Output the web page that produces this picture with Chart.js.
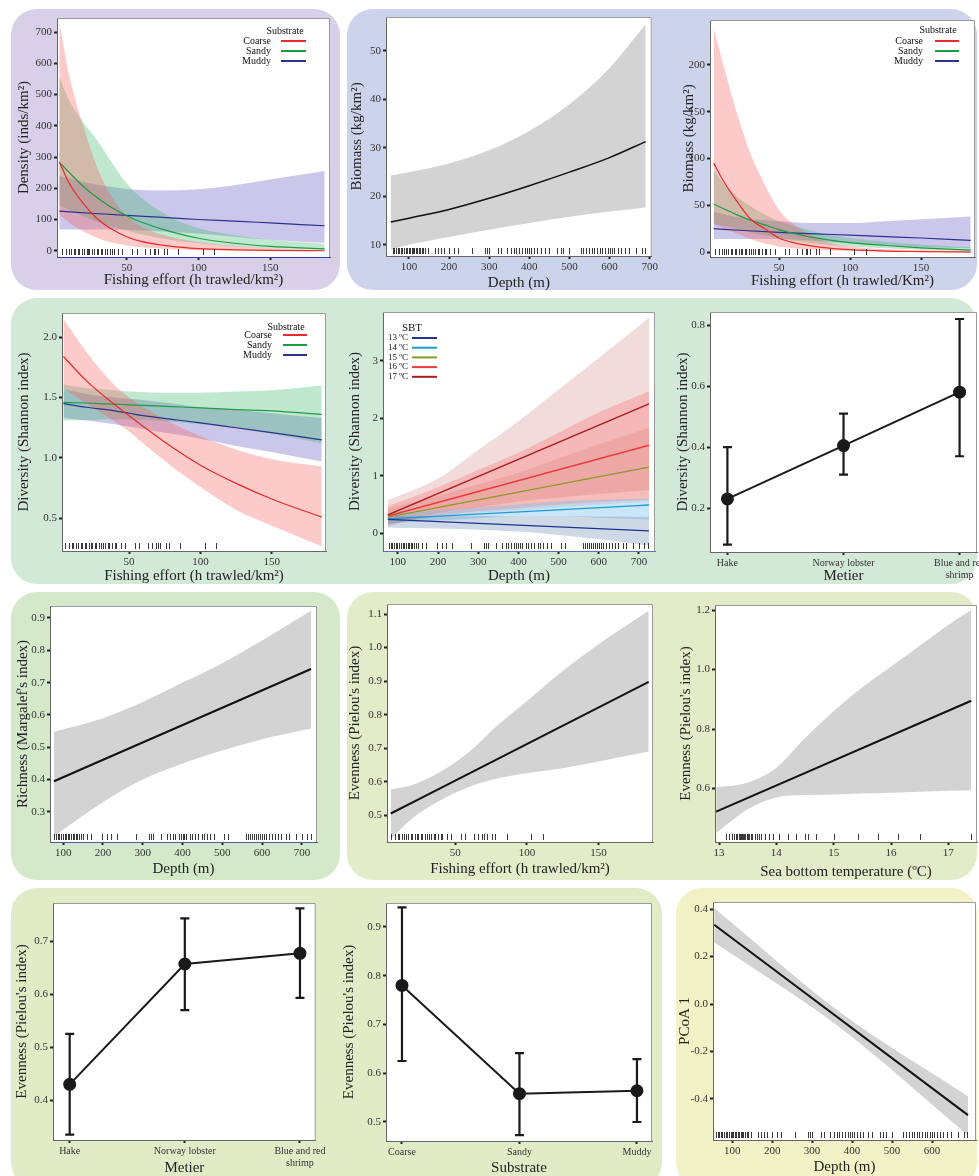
<!DOCTYPE html>
<html>
<head>
<meta charset="utf-8">
<script src="https://cdn.jsdelivr.net/npm/chart.js@4.4.1/dist/chart.umd.min.js"></script>
<style>
  body { margin: 0; width: 979px; height: 1176px; position: relative; overflow: hidden; background: #fff; }
  .bg { position: absolute; border-radius: 26px; }
  canvas { position: absolute; }
</style>
</head>
<body>
<div class="bg" style="left:11px;top:9px;width:329px;height:281px;background:#d8cfe8"></div>
<div class="bg" style="left:347px;top:9px;width:630px;height:281px;background:#ced3ec"></div>
<div class="bg" style="left:11px;top:298px;width:966px;height:286px;background:#d2e9d8"></div>
<div class="bg" style="left:11px;top:592px;width:329px;height:288px;background:#d4e9c9"></div>
<div class="bg" style="left:347px;top:592px;width:630px;height:288px;background:#e2ecc8"></div>
<div class="bg" style="left:11px;top:888px;width:651px;height:300px;background:#e0ecc6"></div>
<div class="bg" style="left:676px;top:888px;width:301px;height:300px;background:#f3f2c6"></div>
<script>
// ---------- data ----------
// density / biomass vs fishing effort, by substrate
const effortX = [3, 10, 20, 30, 40, 50, 60, 80, 100, 125, 150, 188];
const densCoarse = [285, 215, 150, 100, 68, 45, 30, 15, 7, 3, 1, 0];
const densCoarseLo = [115, 90, 62, 40, 26, 17, 11, 5, 2, 1, 0, 0];
const densCoarseHi = [730, 560, 395, 260, 170, 112, 78, 45, 28, 15, 8, 3];
const densSandy = [283, 250, 205, 168, 137, 112, 92, 62, 40, 24, 14, 6];
const densSandyLo = [145, 130, 110, 92, 77, 64, 53, 35, 24, 14, 8, 3];
const densSandyHi = [555, 480, 410, 350, 280, 215, 170, 110, 72, 50, 35, 22];
const densMuddyX = [3, 25, 50, 75, 100, 125, 150, 188];
const densMuddy = [127, 120, 113, 107, 100, 95, 89, 80];
const densMuddyLo = [68, 68, 67, 62, 55, 45, 35, 25];
const densMuddyHi = [240, 215, 198, 193, 197, 210, 228, 255];

const depthBX = [55, 100, 200, 300, 400, 500, 600, 690];
const biomassFit = [14.7, 15.5, 17.3, 19.6, 22.2, 25.0, 28.0, 31.3];
const biomassLo = [9.0, 10.0, 11.6, 13.1, 14.5, 15.8, 16.9, 17.7];
const biomassHi = [24.3, 25.0, 26.8, 29.5, 33.5, 39.0, 46.5, 55.5];

const effortX3 = [4, 10, 20, 30, 40, 50, 60, 80, 100, 125, 150, 185];
const bioCoarse = [95, 78, 55, 35, 25, 15, 10, 5, 2.5, 1, 0.5, 0];
const bioCoarseLo = [30, 26, 20, 14, 9, 6, 4, 2, 1, 0.5, 0, 0];
const bioCoarseHi = [240, 205, 150, 105, 72, 45, 30, 13, 6, 3, 2, 1];
const bioSandy = [51, 47, 40, 34, 29, 24, 20, 14, 10, 7, 4.5, 2];
const bioSandyLo = [30, 28, 25, 21, 18, 15, 12, 8, 6, 4, 2.5, 1];
const bioSandyHi = [88, 75, 60, 49, 40, 33, 28, 20, 15, 11, 8, 5];
const bioMuddyX = [4, 25, 50, 75, 100, 125, 150, 185];
const bioMuddy = [25, 23, 21, 19.5, 18, 16.5, 15, 12.5];
const bioMuddyLo = [14, 14, 14, 12, 9, 7, 5, 4];
const bioMuddyHi = [43, 36, 33, 31, 31, 33, 35, 38];

// diversity vs fishing effort
const divEffX = [4, 20, 40, 50, 60, 80, 100, 125, 150, 185];
const divCoarse = [1.84, 1.64, 1.44, 1.35, 1.26, 1.09, 0.94, 0.79, 0.66, 0.51];
const divCoarseLo = [1.58, 1.45, 1.30, 1.22, 1.12, 0.93, 0.76, 0.57, 0.44, 0.27];
const divCoarseHi = [2.15, 1.88, 1.60, 1.50, 1.42, 1.29, 1.18, 1.07, 0.99, 0.93];
const divSandy = [1.46, 1.455, 1.445, 1.44, 1.435, 1.425, 1.415, 1.40, 1.39, 1.36];
const divSandyLo = [1.31, 1.315, 1.32, 1.32, 1.315, 1.30, 1.28, 1.25, 1.20, 1.12];
const divSandyHi = [1.61, 1.58, 1.56, 1.55, 1.545, 1.54, 1.54, 1.55, 1.56, 1.60];
const divMuddy = [1.45, 1.42, 1.39, 1.37, 1.35, 1.32, 1.29, 1.25, 1.21, 1.15];
const divMuddyLo = [1.33, 1.31, 1.28, 1.26, 1.24, 1.20, 1.16, 1.10, 1.05, 0.97];
const divMuddyHi = [1.57, 1.53, 1.50, 1.49, 1.48, 1.45, 1.42, 1.40, 1.37, 1.33];

// diversity vs depth, by sea bottom temperature
const sbtLineX = [75, 725];
const sbt13 = [0.24, 0.04];
const sbt14 = [0.25, 0.49];
const sbt15 = [0.28, 1.15];
const sbt16 = [0.30, 1.53];
const sbt17 = [0.32, 2.25];
const sbtX = [75, 200, 300, 400, 500, 600, 725];
const sbt13Lo = [0.10, 0.08, 0.06, 0.03, -0.03, -0.10, -0.22];
const sbt13Hi = [0.30, 0.30, 0.30, 0.30, 0.30, 0.29, 0.28];
const sbt14Lo = [0.17, 0.22, 0.26, 0.30, 0.30, 0.27, 0.24];
const sbt14Hi = [0.33, 0.40, 0.45, 0.50, 0.55, 0.58, 0.60];
const sbt15Lo = [0.17, 0.28, 0.35, 0.40, 0.45, 0.50, 0.55];
const sbt15Hi = [0.43, 0.65, 0.85, 1.05, 1.30, 1.55, 1.83];
const sbt16Lo = [0.15, 0.30, 0.38, 0.44, 0.50, 0.54, 0.58];
const sbt16Hi = [0.47, 0.80, 1.10, 1.40, 1.75, 2.10, 2.47];
const sbt17Lo = [0.12, 0.35, 0.45, 0.55, 0.62, 0.68, 0.75];
const sbt17Hi = [0.57, 0.95, 1.45, 1.95, 2.50, 3.05, 3.75];
const sbtNames = ['13 ºC', '14 ºC', '15 ºC', '16 ºC', '17 ºC'];

// metier / substrate means with intervals
const metierNames = ['Hake', 'Norway lobster', ['Blue and red', 'shrimp']];
const divMetier = [0.23, 0.405, 0.58];
const divMetierLo = [0.08, 0.31, 0.37];
const divMetierHi = [0.40, 0.51, 0.82];
const evMetier = [0.43, 0.657, 0.677];
const evMetierLo = [0.335, 0.57, 0.593];
const evMetierHi = [0.525, 0.743, 0.762];
const substrateNames = ['Coarse', 'Sandy', 'Muddy'];
const evSub = [0.78, 0.558, 0.564];
const evSubLo = [0.625, 0.473, 0.50];
const evSubHi = [0.94, 0.641, 0.629];

// richness vs depth
const richLineX = [77, 723];
const richFit = [0.395, 0.742];
const richX = [77, 200, 300, 400, 500, 600, 723];
const richLo = [0.225, 0.33, 0.40, 0.45, 0.49, 0.525, 0.558];
const richHi = [0.548, 0.59, 0.64, 0.70, 0.76, 0.83, 0.922];

// evenness vs fishing effort / temperature
const evEffLineX = [5, 185];
const evEffFit = [0.505, 0.898];
const evEffX = [5, 20, 40, 60, 80, 100, 125, 150, 185];
const evEffLo = [0.43, 0.49, 0.545, 0.585, 0.61, 0.625, 0.64, 0.66, 0.69];
const evEffHi = [0.577, 0.59, 0.63, 0.69, 0.77, 0.84, 0.93, 1.01, 1.11];
const evSbtLineX = [12.95, 17.4];
const evSbtFit = [0.522, 0.895];
const evSbtX = [12.95, 13.5, 14, 14.5, 15, 15.5, 16, 16.5, 17, 17.4];
const evSbtLo = [0.45, 0.53, 0.57, 0.578, 0.58, 0.583, 0.586, 0.589, 0.592, 0.594];
const evSbtHi = [0.603, 0.62, 0.67, 0.77, 0.86, 0.94, 1.01, 1.08, 1.15, 1.2];

// PCoA 1 vs depth
const pcoaLineX = [55, 690];
const pcoaFit = [0.334, -0.468];
const pcoaX = [55, 370, 690];
const pcoaLo = [0.26, -0.10, -0.554];
const pcoaHi = [0.405, -0.035, -0.389];

// rug marks (observations)
const effortRug = [5, 8, 10, 11, 13, 14, 16, 17, 19, 20, 22, 23, 24, 26, 27, 29, 30, 32, 33, 35, 36, 38, 40, 41, 44, 47, 54, 57, 63, 66, 69, 70, 72, 76, 78, 86, 103, 111];
const depthRugA = [60, 64, 68, 72, 75, 80, 84, 88, 92, 96, 100, 103, 107, 110, 114, 118, 121, 125, 128, 132, 136, 140, 148, 165, 172, 180, 188, 200, 212, 222, 258, 290, 295, 300, 322, 330, 345, 355, 362, 368, 375, 382, 390, 395, 400, 405, 412, 420, 428, 440, 450, 470, 478, 485, 500, 528, 535, 542, 550, 556, 562, 568, 575, 582, 588, 595, 600, 606, 612, 620, 628, 638, 648, 665, 680, 688];
const depthRugB = [78, 82, 86, 90, 95, 99, 104, 108, 112, 116, 120, 124, 128, 132, 136, 140, 145, 150, 160, 170, 198, 210, 220, 235, 282, 315, 320, 325, 345, 360, 368, 375, 382, 390, 395, 400, 405, 410, 418, 425, 432, 440, 448, 455, 462, 470, 480, 505, 515, 560, 565, 570, 575, 580, 585, 590, 595, 600, 605, 610, 618, 625, 632, 640, 648, 660, 668, 685, 700, 712, 722];
const sbtRug = [13.12, 13.18, 13.22, 13.26, 13.3, 13.32, 13.34, 13.36, 13.38, 13.4, 13.42, 13.44, 13.46, 13.48, 13.5, 13.52, 13.55, 13.58, 13.62, 13.66, 13.7, 13.74, 13.8, 13.88, 13.95, 14.05, 14.2, 14.35, 14.5, 14.55, 14.7, 15.0, 15.42, 15.77, 16.12, 16.5, 17.4];

// ---------- style ----------
const SERIF = '"Liberation Serif", "Times New Roman", serif';
Chart.defaults.font.family = SERIF;
const RED = '#e82a2a', GREEN = '#1e9c45', BLUE = '#2d318f';
const RED_BAND = 'rgba(250, 90, 90, 0.32)';
const GREEN_BAND = 'rgba(60, 185, 105, 0.33)';
const BLUE_BAND = 'rgba(95, 85, 195, 0.33)';
const GREY_BAND = '#d3d3d3';
const SBT_LINES = ['#23318f', '#1c9bd1', '#8a9a2a', '#ee3b3b', '#a61c1c'];
const SBT_BANDS = ['rgba(90, 130, 170, 0.3)', 'rgba(120, 190, 240, 0.4)', 'rgba(200, 90, 70, 0.16)', 'rgba(255, 90, 90, 0.28)', 'rgba(190, 90, 90, 0.22)'];

// canvas box and plot box, page pixels [left, top, right, bottom]
const G = {
  p1: { canvas: [15, 5, 336, 289], plot: [57, 18, 330, 257] },
  p2: { canvas: [348, 5, 660, 292], plot: [386, 17, 652, 256] },
  p3: { canvas: [680, 5, 979, 290], plot: [710, 20, 975, 257] },
  p4: { canvas: [15, 300, 332, 585], plot: [62, 313, 326, 551] },
  p5: { canvas: [346, 300, 662, 585], plot: [383, 312, 655, 551] },
  p6: { canvas: [674, 300, 990, 585], plot: [710, 312, 977, 552] },
  p7: { canvas: [14, 595, 325, 878], plot: [50, 606, 317, 842] },
  p8: { canvas: [346, 595, 660, 878], plot: [387, 604, 653, 842] },
  p9: { canvas: [677, 595, 979, 881], plot: [715, 605, 977, 842] },
  p10: { canvas: [13, 890, 328, 1177], plot: [53, 903, 320, 1140] },
  p11: { canvas: [340, 890, 660, 1177], plot: [386, 903, 652, 1141] },
  p12: { canvas: [676, 890, 979, 1176], plot: [713, 902, 976, 1140] }
};

// ---------- plugins ----------
const frame = {
  id: 'frame',
  beforeDraw(c) {
    const { ctx, chartArea: a } = c;
    ctx.save();
    ctx.fillStyle = '#fff';
    ctx.fillRect(a.left, a.top, a.width, a.height);
    ctx.restore();
  },
  afterDraw(c) {
    const { ctx, chartArea: a } = c;
    ctx.save();
    ctx.strokeStyle = '#9a9a9a';
    ctx.lineWidth = 1;
    ctx.beginPath();
    ctx.moveTo(a.left, a.top + 0.5);
    ctx.lineTo(a.right - 0.5, a.top + 0.5);
    ctx.lineTo(a.right - 0.5, a.bottom);
    ctx.stroke();
    ctx.restore();
  }
};

const rug = {
  id: 'rug',
  afterDatasetsDraw(c, args, o) {
    if (!o.values) return;
    const { ctx, chartArea: a, scales: { x } } = c;
    ctx.save();
    ctx.strokeStyle = '#222';
    ctx.lineWidth = 0.9;
    ctx.beginPath();
    o.values.forEach(v => {
      const px = Math.round(x.getPixelForValue(v)) + 0.5;
      ctx.moveTo(px, a.bottom - 2);
      ctx.lineTo(px, a.bottom - 8);
    });
    ctx.stroke();
    ctx.restore();
  }
};

const errbars = {
  id: 'errbars',
  beforeDatasetsDraw(c, args, o) {
    if (!o.lo) return;
    const { ctx, scales: { x, y } } = c;
    ctx.save();
    ctx.strokeStyle = '#1a1a1a';
    ctx.lineWidth = 2.2;
    o.lo.forEach((lo, i) => {
      const px = x.getPixelForValue(i), y0 = y.getPixelForValue(lo), y1 = y.getPixelForValue(o.hi[i]);
      ctx.beginPath();
      ctx.moveTo(px, y0); ctx.lineTo(px, y1);
      ctx.moveTo(px - 4.5, y0); ctx.lineTo(px + 4.5, y0);
      ctx.moveTo(px - 4.5, y1); ctx.lineTo(px + 4.5, y1);
      ctx.stroke();
    });
    ctx.restore();
  }
};

const key = {
  id: 'key',
  afterDraw(c, args, o) {
    if (!o.title) return;
    const { ctx, chartArea: a } = c;
    const base = o.side === 'left' ? a.left : a.right;
    const items = c.data.datasets.filter(d => d.label);
    ctx.save();
    ctx.fillStyle = '#111';
    ctx.textBaseline = 'middle';
    ctx.font = `${o.titleSize || 10}px ${SERIF}`;
    ctx.textAlign = 'center';
    ctx.fillText(o.title, base + o.titleX, a.top + o.titleY);
    ctx.font = `${o.size || 10}px ${SERIF}`;
    ctx.textAlign = o.side === 'left' ? 'left' : 'right';
    items.forEach((d, i) => {
      const yy = a.top + o.y0 + i * o.dy;
      ctx.fillText(d.label, base + o.textX, yy);
      ctx.strokeStyle = d.borderColor;
      ctx.lineWidth = 2;
      ctx.beginPath();
      ctx.moveTo(base + o.line[0], yy);
      ctx.lineTo(base + o.line[1], yy);
      ctx.stroke();
    });
    ctx.restore();
  }
};

// ---------- helpers ----------
function pts(xs, ys) { return xs.map((x, i) => ({ x, y: ys[i] })); }

function fit(xs, ys, color, label, w) {
  return { label, data: pts(xs, ys), borderColor: color, borderWidth: w || 1.2, pointRadius: 0, fill: false, cubicInterpolationMode: 'monotone' };
}

function band(xs, lo, hi, color) {
  return [
    { data: pts(xs, lo), borderWidth: 0, pointRadius: 0, fill: false, cubicInterpolationMode: 'monotone' },
    { data: pts(xs, hi), borderWidth: 0, pointRadius: 0, fill: '-1', backgroundColor: color, cubicInterpolationMode: 'monotone' }
  ];
}

function means(vals) {
  return { data: pts([0, 1, 2], vals), borderColor: '#1a1a1a', borderWidth: 2, pointRadius: 5.5, pointBackgroundColor: '#1a1a1a', pointBorderColor: '#1a1a1a', fill: false, tension: 0 };
}

function axis(a, size, horizontal) {
  return {
    type: 'linear', min: a.min, max: a.max,
    afterFit(s) { if (horizontal) s.height = size; else s.width = size; },
    afterBuildTicks(s) { s.ticks = a.ticks.map(v => ({ value: v })); },
    ticks: {
      autoSkip: false, maxRotation: 0, padding: 2, color: '#333',
      font: { size: a.tickSize || 11 },
      callback: a.names ? (v => a.names[v]) : (v => v.toFixed(a.dec || 0))
    },
    grid: { display: true, drawOnChartArea: false, drawTicks: true, tickLength: 3, tickWidth: 2, tickColor: '#222' },
    border: { display: true, color: a.line || '#666', width: 1 },
    title: { display: true, text: a.title, color: '#222', font: { size: 15 }, padding: 0 }
  };
}

function panel(g, datasets, xa, ya, extra) {
  const [cl, ct, cr, cb] = g.canvas, [pl, pt, pr, pb] = g.plot;
  const cv = document.createElement('canvas');
  cv.width = cr - cl;
  cv.height = cb - ct;
  cv.style.left = cl + 'px';
  cv.style.top = ct + 'px';
  document.body.appendChild(cv);
  new Chart(cv, {
    type: 'line',
    data: { datasets },
    plugins: [frame, rug, errbars, key],
    options: {
      responsive: false, animation: false, events: [],
      layout: { padding: { left: 0, top: pt - ct, right: cr - pr, bottom: 0 } },
      plugins: Object.assign({
        legend: { display: false }, tooltip: { enabled: false }, colors: { enabled: false },
        filler: { drawTime: 'beforeDatasetsDraw' }
      }, extra),
      scales: { x: axis(xa, cb - pb, true), y: axis(ya, pl - cl, false) }
    }
  });
}

const effortTitle = 'Fishing effort (h trawled/km²)';
const substrateKey = (tx, ty, txt, ln, y0) => ({ title: 'Substrate', side: 'right', titleX: tx, titleY: ty, textX: txt, line: ln, y0, dy: 10 });

// ---------- panels ----------
panel(G.p1, [
  fit(effortX, densCoarse, RED, 'Coarse'),
  fit(effortX, densSandy, GREEN, 'Sandy'),
  fit(densMuddyX, densMuddy, BLUE, 'Muddy'),
  ...band(effortX, densCoarseLo, densCoarseHi, RED_BAND),
  ...band(effortX, densSandyLo, densSandyHi, GREEN_BAND),
  ...band(densMuddyX, densMuddyLo, densMuddyHi, BLUE_BAND)
], { min: 1.4, max: 191.7, ticks: [50, 100, 150], title: effortTitle, line: '#34409a' },
   { min: -20, max: 745, ticks: [0, 100, 200, 300, 400, 500, 600, 700], title: 'Density (inds/km²)' },
   { rug: { values: effortRug }, key: substrateKey(-45, 13, -59, [-49, -24], 23) });

panel(G.p2, [
  fit(depthBX, biomassFit, '#111', undefined, 1.5),
  ...band(depthBX, biomassLo, biomassHi, GREY_BAND)
], { min: 43, max: 705, ticks: [100, 200, 300, 400, 500, 600, 700], title: 'Depth (m)' },
   { min: 7.7, max: 57, ticks: [10, 20, 30, 40, 50], title: 'Biomass (kg/km²)' },
   { rug: { values: depthRugA } });

panel(G.p3, [
  fit(effortX3, bioCoarse, RED, 'Coarse'),
  fit(effortX3, bioSandy, GREEN, 'Sandy'),
  fit(bioMuddyX, bioMuddy, BLUE, 'Muddy'),
  ...band(effortX3, bioCoarseLo, bioCoarseHi, RED_BAND),
  ...band(effortX3, bioSandyLo, bioSandyHi, GREEN_BAND),
  ...band(bioMuddyX, bioMuddyLo, bioMuddyHi, BLUE_BAND)
], { min: 1.4, max: 188, ticks: [50, 100, 150], title: 'Fishing effort (h trawled/Km²)' },
   { min: -5.3, max: 248, ticks: [0, 50, 100, 150, 200], title: 'Biomass (kg/km²)' },
   { rug: { values: effortRug }, key: substrateKey(-37, 10, -52, [-40, -16], 21) });

panel(G.p4, [
  fit(divEffX, divCoarse, RED, 'Coarse'),
  fit(divEffX, divSandy, GREEN, 'Sandy'),
  fit(divEffX, divMuddy, BLUE, 'Muddy'),
  ...band(divEffX, divCoarseLo, divCoarseHi, RED_BAND),
  ...band(divEffX, divSandyLo, divSandyHi, GREEN_BAND),
  ...band(divEffX, divMuddyLo, divMuddyHi, BLUE_BAND)
], { min: 3, max: 188, ticks: [50, 100, 150], title: effortTitle },
   { min: 0.23, max: 2.2, ticks: [0.5, 1.0, 1.5, 2.0], dec: 1, title: 'Diversity (Shannon index)' },
   { rug: { values: effortRug }, key: substrateKey(-40, 14, -54, [-43, -19], 22) });

const sbtSeries = [sbt13, sbt14, sbt15, sbt16, sbt17];
const sbtBandLo = [sbt13Lo, sbt14Lo, sbt15Lo, sbt16Lo, sbt17Lo];
const sbtBandHi = [sbt13Hi, sbt14Hi, sbt15Hi, sbt16Hi, sbt17Hi];
panel(G.p5, [
  ...sbtSeries.map((s, i) => fit(sbtLineX, s, SBT_LINES[i], sbtNames[i], 1.4)),
  ...sbtSeries.flatMap((s, i) => band(sbtX, sbtBandLo[i], sbtBandHi[i], SBT_BANDS[i]))
], { min: 63, max: 740, ticks: [100, 200, 300, 400, 500, 600, 700], title: 'Depth (m)', line: '#6070b0' },
   { min: -0.31, max: 3.85, ticks: [0, 1, 2, 3], title: 'Diversity (Shannon index)' },
   { rug: { values: depthRugB }, key: { title: 'SBT', side: 'left', titleSize: 11, size: 9, titleX: 29, titleY: 16, textX: 5, line: [29, 54], y0: 26, dy: 9.7 } });

panel(G.p6, [means(divMetier)],
   { min: -0.15, max: 2.15, ticks: [0, 1, 2], names: metierNames, tickSize: 10, title: 'Metier' },
   { min: 0.056, max: 0.843, ticks: [0.2, 0.4, 0.6, 0.8], dec: 1, title: 'Diversity (Shannon index)' },
   { errbars: { lo: divMetierLo, hi: divMetierHi } });

panel(G.p7, [
  fit(richLineX, richFit, '#111', undefined, 2),
  ...band(richX, richLo, richHi, GREY_BAND)
], { min: 67, max: 738, ticks: [100, 200, 300, 400, 500, 600, 700], title: 'Depth (m)', line: '#4a5aa0' },
   { min: 0.207, max: 0.937, ticks: [0.3, 0.4, 0.5, 0.6, 0.7, 0.8, 0.9], dec: 1, title: "Richness (Margalef's index)" },
   { rug: { values: depthRugB } });

panel(G.p8, [
  fit(evEffLineX, evEffFit, '#111', undefined, 2),
  ...band(evEffX, evEffLo, evEffHi, GREY_BAND)
], { min: 2.4, max: 188, ticks: [50, 100, 150], title: effortTitle },
   { min: 0.42, max: 1.13, ticks: [0.5, 0.6, 0.7, 0.8, 0.9, 1.0, 1.1], dec: 1, title: "Evenness (Pielou's index)" },
   { rug: { values: effortRug } });

panel(G.p9, [
  fit(evSbtLineX, evSbtFit, '#111', undefined, 2),
  ...band(evSbtX, evSbtLo, evSbtHi, GREY_BAND)
], { min: 12.93, max: 17.5, ticks: [13, 14, 15, 16, 17], title: 'Sea bottom temperature (ºC)' },
   { min: 0.42, max: 1.217, ticks: [0.6, 0.8, 1.0, 1.2], dec: 1, title: "Evenness (Pielou's index)" },
   { rug: { values: sbtRug } });

panel(G.p10, [means(evMetier)],
   { min: -0.145, max: 2.137, ticks: [0, 1, 2], names: metierNames, tickSize: 10, title: 'Metier' },
   { min: 0.325, max: 0.772, ticks: [0.4, 0.5, 0.6, 0.7], dec: 1, title: "Evenness (Pielou's index)" },
   { errbars: { lo: evMetierLo, hi: evMetierHi } });

panel(G.p11, [means(evSub)],
   { min: -0.136, max: 2.128, ticks: [0, 1, 2], names: substrateNames, tickSize: 10, title: 'Substrate' },
   { min: 0.461, max: 0.949, ticks: [0.5, 0.6, 0.7, 0.8, 0.9], dec: 1, title: "Evenness (Pielou's index)" },
   { errbars: { lo: evSubLo, hi: evSubHi } });

panel(G.p12, [
  fit(pcoaLineX, pcoaFit, '#111', undefined, 2),
  ...band(pcoaX, pcoaLo, pcoaHi, GREY_BAND)
], { min: 52, max: 710, ticks: [100, 200, 300, 400, 500, 600], title: 'Depth (m)' },
   { min: -0.573, max: 0.43, ticks: [-0.4, -0.2, 0, 0.2, 0.4], dec: 1, title: 'PCoA 1' },
   { rug: { values: depthRugA } });
</script>
</body>
</html>
